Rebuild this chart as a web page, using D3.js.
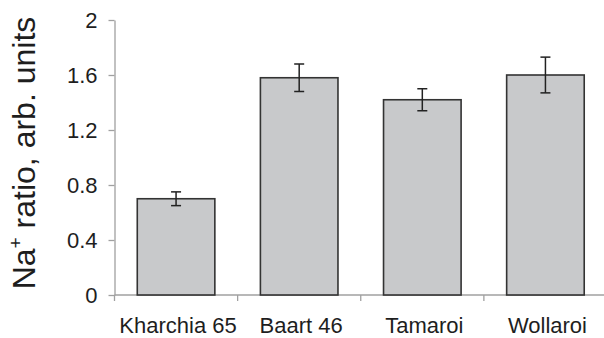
<!DOCTYPE html>
<html>
<head>
<meta charset="utf-8">
<script src="https://cdn.jsdelivr.net/npm/d3@7"></script>
<style>
  html, body { margin: 0; padding: 0; background: #fff; }
  svg { display: block; font-family: "Liberation Sans", Arial, Helvetica, sans-serif; }
</style>
</head>
<body>
<svg id="chart" width="604" height="338"></svg>
<script>
// Na+ ratio per wheat cultivar, mean with error
const cultivars = ["Kharchia 65", "Baart 46", "Tamaroi", "Wollaroi"];
const naRatio   = [0.70, 1.58, 1.42, 1.60];
const naError   = [0.05, 0.10, 0.08, 0.13];
const yTicks    = [0, 0.4, 0.8, 1.2, 1.6, 2];
const yTickText = ["0", "0.4", "0.8", "1.2", "1.6", "2"];

const svg = d3.select("#chart");
const plot = { left: 114.5, right: 607, top: 20, bottom: 295 };

const x = d3.scaleBand()
  .domain(cultivars)
  .range([plot.left, plot.right])
  .paddingInner(0.37)
  .paddingOuter(0.185);

const y = d3.scaleLinear().domain([0, 2]).range([plot.bottom, plot.top]);

const axisColor = "#a0a0a0";
const textColor = "#1e1e1e";

// y axis
const yAxis = svg.append("g")
  .attr("transform", `translate(${plot.left},0)`)
  .call(d3.axisLeft(y).tickValues(yTicks)
    .tickFormat((d, i) => yTickText[i]).tickSize(6).tickSizeOuter(0).tickPadding(11));
yAxis.attr("font-family", null);
yAxis.select(".domain").attr("stroke", axisColor).attr("stroke-width", 1.3);
yAxis.selectAll(".tick line").attr("stroke", axisColor).attr("stroke-width", 1.3);
yAxis.selectAll(".tick text")
  .attr("fill", textColor).attr("font-size", 22);

// x axis with ticks on the category boundaries
const xAxisG = svg.append("g").attr("transform", `translate(0,${plot.bottom})`);
xAxisG.append("line")
  .attr("x1", plot.left).attr("x2", plot.right)
  .attr("stroke", axisColor).attr("stroke-width", 1.3);
const step = x.step();
const boundaries = d3.range(cultivars.length + 1).map(i => plot.left + i * step);
xAxisG.selectAll("line.bound").data(boundaries).join("line")
  .attr("class", "bound")
  .attr("x1", d => d).attr("x2", d => d)
  .attr("y1", 0).attr("y2", 6)
  .attr("stroke", axisColor).attr("stroke-width", 1.3);
xAxisG.selectAll("text").data(cultivars).join("text")
  .attr("x", d => x(d) + x.bandwidth() / 2 + 2)
  .attr("y", 38)
  .attr("text-anchor", "middle")
  .attr("font-size", 22)
  .attr("fill", textColor)
  .text(d => d);

// bars
const data = cultivars.map((c, i) => ({ c, v: naRatio[i], e: naError[i] }));
svg.append("g").selectAll("rect").data(data).join("rect")
  .attr("x", d => x(d.c))
  .attr("y", d => y(d.v))
  .attr("width", x.bandwidth())
  .attr("height", d => y(0) - y(d.v))
  .attr("fill", "#c8c9cb")
  .attr("stroke", "#333")
  .attr("stroke-width", 1.6);

// error bars
const eb = svg.append("g").selectAll("g").data(data).join("g")
  .attr("stroke", "#222").attr("stroke-width", 1.5);
const cx = d => x(d.c) + x.bandwidth() / 2;
eb.append("line")
  .attr("x1", cx).attr("x2", cx)
  .attr("y1", d => y(d.v + d.e)).attr("y2", d => y(d.v - d.e));
eb.append("line")
  .attr("x1", d => cx(d) - 5).attr("x2", d => cx(d) + 5)
  .attr("y1", d => y(d.v + d.e)).attr("y2", d => y(d.v + d.e));
eb.append("line")
  .attr("x1", d => cx(d) - 5).attr("x2", d => cx(d) + 5)
  .attr("y1", d => y(d.v - d.e)).attr("y2", d => y(d.v - d.e));

// y axis title
const title = svg.append("text")
  .attr("transform", "translate(35,153) rotate(-90)")
  .attr("text-anchor", "middle")
  .attr("font-size", 32)
  .attr("fill", textColor);
title.append("tspan").text("Na");
title.append("tspan").attr("font-size", 19).attr("dy", -13).text("+");
title.append("tspan").attr("dy", 13).text(" ratio, arb. units");
</script>
</body>
</html>
